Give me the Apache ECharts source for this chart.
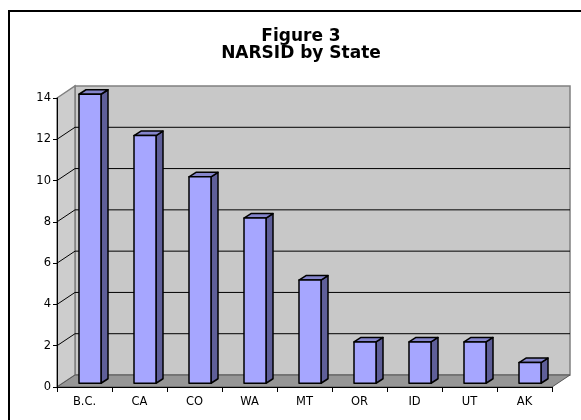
<!DOCTYPE html>
<html>
<head>
<meta charset="utf-8">
<script src="https://cdn.jsdelivr.net/npm/echarts@6/dist/echarts.min.js"></script>
<style>
  html, body { margin: 0; padding: 0; background: #fff; }
  #chart { width: 581px; height: 420px; }
</style>
</head>
<body>
<div id="chart"></div>
<script>
  var states = ['B.C.', 'CA', 'CO', 'WA', 'MT', 'OR', 'ID', 'UT', 'AK'];
  var counts = [14, 12, 10, 8, 5, 2, 2, 2, 1];
  var wallLines = [2, 4, 6, 8, 10, 12];

  // 3d offsets: back wall behind the front plane, and depth of each bar
  var DX = 18, DY = -12;
  var BAR_DX = 7, BAR_DY = -4.5;
  var FONT = 'DejaVu Sans, Verdana, sans-serif';

  var chart = echarts.init(document.getElementById('chart'));

  // walls + floor
  function renderWalls (params, api) {
    var cs = params.coordSys;
    var x0 = cs.x, x1 = cs.x + cs.width;
    var y0 = cs.y, y1 = cs.y + cs.height;
    var edge = { stroke: '#808080', lineWidth: 1.5 };
    return {
      type: 'group',
      children: [
        {
          type: 'rect',
          shape: { x: x0 + DX, y: y0 + DY, width: cs.width, height: cs.height },
          style: Object.assign({ fill: '#c8c8c8' }, edge)
        },
        {
          type: 'polygon',
          shape: { points: [[x0, y0], [x0 + DX, y0 + DY], [x0 + DX, y1 + DY], [x0, y1]] },
          style: Object.assign({ fill: '#cdcdcd' }, edge)
        },
        {
          type: 'polygon',
          shape: { points: [[x0, y1], [x1, y1], [x1 + DX, y1 + DY], [x0 + DX, y1 + DY]] },
          style: { fill: '#969696', stroke: '#555', lineWidth: 1 }
        }
      ]
    };
  }

  // grid lines on back wall and the left side wall
  function renderWallLines (params, api) {
    var cs = params.coordSys;
    var y = api.coord([0, api.value(1)])[1];
    var x0 = cs.x, x1 = cs.x + cs.width;
    return {
      type: 'group',
      children: [
        {
          type: 'line',
          shape: { x1: x0 + DX, y1: y + DY, x2: x1 + DX, y2: y + DY },
          style: { stroke: '#000', lineWidth: 1 }
        },
        {
          type: 'line',
          shape: { x1: x0, y1: y, x2: x0 + DX, y2: y + DY },
          style: { stroke: '#000', lineWidth: 1 }
        }
      ]
    };
  }

  // 3d bars
  function renderBar (params, api) {
    var base = api.coord([api.value(0), 0]);
    var top = api.coord([api.value(0), api.value(1)]);
    var w = api.size([1, 0])[0] * 0.4;
    var ox = (DX - BAR_DX) / 2, oy = (DY - BAR_DY) / 2;
    var xl = base[0] - w / 2 + ox, xr = xl + w;
    var yb = base[1] + oy, yt = top[1] + oy;
    var line = { stroke: '#000', lineWidth: 1.5, lineJoin: 'round' };
    return {
      type: 'group',
      children: [
        {
          type: 'polygon',
          shape: { points: [[xr, yt], [xr + BAR_DX, yt + BAR_DY], [xr + BAR_DX, yb + BAR_DY], [xr, yb]] },
          style: Object.assign({ fill: '#5f5f99' }, line)
        },
        {
          type: 'polygon',
          shape: { points: [[xl, yt], [xl + BAR_DX, yt + BAR_DY], [xr + BAR_DX, yt + BAR_DY], [xr, yt]] },
          style: Object.assign({ fill: '#8585cc' }, line)
        },
        {
          type: 'rect',
          shape: { x: xl, y: yt, width: w, height: yb - yt },
          style: Object.assign({ fill: '#a6a6ff' }, line)
        }
      ]
    };
  }

  var option = {
    animation: false,
    grid: { left: 57, right: 29, top: 98, bottom: 33 },
    graphic: [
      {
        type: 'rect',
        shape: { x: 9, y: 11, width: 700, height: 500 },
        style: { fill: 'none', stroke: '#000', lineWidth: 2 }
      },
      {
        type: 'text', x: 301, y: 37,
        style: { text: 'Figure 3', font: 'bold 17px ' + FONT, fill: '#000', textAlign: 'center', textVerticalAlign: 'middle' }
      },
      {
        type: 'text', x: 301, y: 54,
        style: { text: 'NARSID by State', font: 'bold 17px ' + FONT, fill: '#000', textAlign: 'center', textVerticalAlign: 'middle' }
      }
    ],
    xAxis: {
      type: 'category',
      data: states,
      z: 5,
      axisLine: { lineStyle: { color: '#000', width: 1 } },
      axisTick: { show: true, length: 5, lineStyle: { color: '#000' } },
      axisLabel: { color: '#000', fontSize: 11.5, fontFamily: FONT, margin: 9 },
      splitLine: { show: false }
    },
    yAxis: {
      type: 'value',
      min: 0,
      max: 14,
      interval: 2,
      z: 5,
      axisLine: { show: true, lineStyle: { color: '#000', width: 1 } },
      axisTick: { show: true, length: 4, lineStyle: { color: '#000' } },
      axisLabel: { color: '#000', fontSize: 11.5, fontFamily: FONT, margin: 6 },
      splitLine: { show: false }
    },
    series: [
      {
        type: 'custom',
        z: 1,
        renderItem: renderWalls,
        data: [[0, 0]]
      },
      {
        type: 'custom',
        z: 2,
        renderItem: renderWallLines,
        data: wallLines.map(function (v) { return [0, v]; })
      },
      {
        type: 'custom',
        z: 3,
        renderItem: renderBar,
        data: counts.map(function (v, i) { return [i, v]; })
      }
    ]
  };

  chart.setOption(option);
</script>
</body>
</html>
